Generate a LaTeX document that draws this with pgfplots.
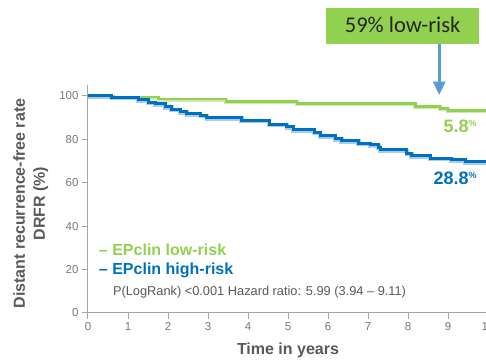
\documentclass[border=0pt]{standalone}
\usepackage{pgfplots}
\pgfplotsset{compat=1.18}
\usepackage{fontspec}
\setmainfont{Liberation Sans}
\newfontfamily\carlito{Carlito}
\definecolor{lgreen}{RGB}{146,208,80}
\definecolor{dblue}{RGB}{0,112,192}
\definecolor{ablue}{RGB}{91,155,213}
\definecolor{txtgray}{RGB}{89,89,89}
\definecolor{ticgray}{RGB}{120,120,120}
\definecolor{axgray}{RGB}{165,165,165}
\pgfplotstableread{
x y
0 100
0.63 99.4
1.76 98.6
3.45 97.5
5.22 96.4
8.18 95.2
8.80 94.1
9.00 93.2
10 93.2
}\lowrisk
\pgfplotstableread{
x y
0 100
0.59 99.4
1.26 98.2
1.51 97.1
1.68 96.3
1.93 95.1
2.09 93.9
2.30 92.8
2.47 91.8
2.80 91.1
2.97 90.0
3.84 88.8
4.53 87.0
4.97 85.7
5.13 84.6
5.65 83.3
5.80 81.6
6.18 80.3
6.34 79.4
6.76 78.2
7.05 77.4
7.26 76.4
7.30 75.1
7.97 73.6
8.09 72.5
8.55 71.3
9.09 70.5
9.43 69.7
10 69.7
}\highrisk
\begin{document}
\begin{tikzpicture}
\begin{axis}[
  at={(0pt,0pt)}, anchor=south west,
  scale only axis, width=400pt, height=228pt,
  xmin=0, xmax=10, ymin=0, ymax=105,
  axis lines*=left,
  axis line style={axgray, line width=1pt},
  xtick={0,1,...,10}, ytick={0,20,...,100},
  tick align=outside, major tick length=6pt,
  tick style={axgray, line width=1pt},
  tick label style={font=\fontsize{11.5}{12}\selectfont, text=ticgray},
  /pgf/number format/assume math mode=true,
  xlabel={Time in years},
  xlabel style={font=\bfseries\fontsize{16}{18}\selectfont, text=txtgray, at={(axis description cs:0.5,0)}, anchor=center, yshift=-37pt},
  ylabel={Distant recurrence-free rate\\DRFR (\%)},
  ylabel style={font=\bfseries\fontsize{16}{20}\selectfont, text=txtgray, align=center, at={(axis description cs:-0.143,0.48)}, anchor=center},
  clip=false,
]
\addplot[const plot, no marks, lgreen!45, line width=4pt, yshift=-0.8pt] table {\lowrisk};
\addplot[const plot, no marks, lgreen, line width=2.6pt] table {\lowrisk};
\addplot[const plot, no marks, dblue!35, line width=4.5pt, yshift=-1pt] table {\highrisk};
\addplot[const plot, no marks, dblue, line width=3pt] table {\highrisk};

\node[anchor=west, font=\bfseries\fontsize{16}{18}\selectfont, text=lgreen, inner sep=0pt] at (axis cs:0.27,29) {– EPclin low-risk};
\node[anchor=west, font=\bfseries\fontsize{16}{18}\selectfont, text=dblue, inner sep=0pt] at (axis cs:0.27,19.4) {– EPclin high-risk};
\node[anchor=west, font=\fontsize{12.8}{14}\selectfont, text=txtgray, inner sep=0pt] at (axis cs:0.62,9.7) {P(LogRank) <0.001 Hazard ratio: 5.99 (3.94 – 9.11)};

\node[anchor=east, font=\bfseries\fontsize{18}{20}\selectfont, text=lgreen, inner sep=0pt] at (axis cs:9.72,85.9) {5.8\raisebox{6pt}{\fontsize{9}{10}\selectfont\%}};
\node[anchor=east, font=\bfseries\fontsize{18}{20}\selectfont, text=dblue, inner sep=0pt] at (axis cs:9.72,62.1) {28.8\raisebox{6pt}{\fontsize{9}{10}\selectfont\%}};

\fill[lgreen] (axis cs:5.95,124) rectangle (axis cs:9.78,140.6);
\node[font=\carlito\fontsize{22.5}{24}\selectfont, text=black!85, inner sep=0pt] at (axis cs:7.865,132.5) {59\% low-risk};
\draw[ablue, line width=3pt] (axis cs:8.78,124) -- (axis cs:8.78,106);
\fill[ablue] (axis cs:8.62,106.5) -- (axis cs:8.94,106.5) -- (axis cs:8.78,100.5) -- cycle;
\end{axis}
\pgfresetboundingbox
\path (-88pt,-50pt) rectangle (398pt,313pt);
\end{tikzpicture}
\end{document}
